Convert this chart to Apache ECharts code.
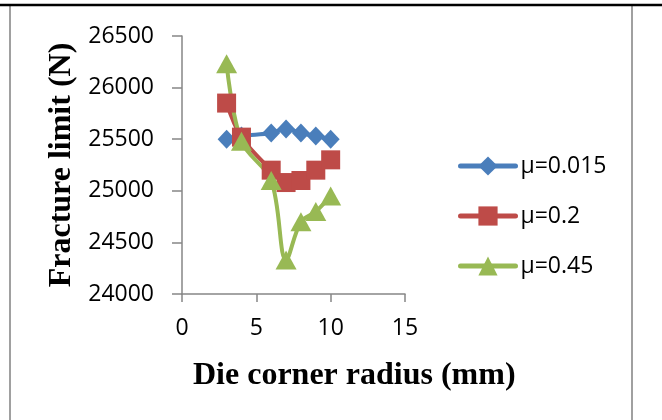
<!DOCTYPE html>
<html>
<head>
<meta charset="utf-8">
<script src="https://cdn.jsdelivr.net/npm/echarts@6/dist/echarts.min.js"></script>
<style>html,body{margin:0;padding:0;background:#fff;}#c{width:662px;height:420px;}</style>
</head>
<body>
<div id="c"></div>
<script>
var radius = [3, 4, 6, 7, 8, 9, 10];
var mu0015 = [25500, 25530, 25560, 25600, 25560, 25530, 25500];
var mu02 = [25850, 25520, 25200, 25080, 25100, 25200, 25300];
var mu045 = [26230, 25480, 25100, 24330, 24700, 24800, 24950];
var seriesNames = ['\u03bc=0.015', '\u03bc=0.2', '\u03bc=0.45'];
var xTitle = 'Die corner radius (mm)';
var yTitle = 'Fracture limit (N)';

function pairs(ys) { return radius.map(function (x, i) { return [x, ys[i]]; }); }

var chart = echarts.init(document.getElementById('c'), null, { renderer: 'canvas' });
var labelFont = { fontFamily: 'Open Sans', fontSize: 23, color: '#000', formatter: function (v) { return String(v); } };
chart.setOption({
  animation: false,
  backgroundColor: '#fff',
  grid: { left: 182, right: 257, top: 36, bottom: 126, containLabel: false },
  title: {
    text: xTitle, left: 188, top: 355,
    textStyle: { fontFamily: 'Liberation Serif', fontWeight: 'bold', fontSize: 32, color: '#000' }
  },
  legend: {
    orient: 'vertical', left: 458, top: 154, padding: 0,
    itemWidth: 55, itemHeight: 24, itemGap: 26,
    lineStyle: { width: 5, cap: 'round' },
    textStyle: { fontFamily: 'Open Sans', fontSize: 23, color: '#000', lineHeight: 24 },
    data: seriesNames
  },
  xAxis: {
    type: 'value', min: 0, max: 15, interval: 5,
    axisLine: { lineStyle: { color: '#868686', width: 1.5 } },
    axisTick: { length: 8, lineStyle: { color: '#868686', width: 1.5 } },
    splitLine: { show: false },
    axisLabel: Object.assign({ margin: 23 }, labelFont)
  },
  yAxis: {
    type: 'value', min: 24000, max: 26500, interval: 500,
    name: yTitle, nameLocation: 'middle', nameGap: 104, nameRotate: 90,
    nameTextStyle: { fontFamily: 'Liberation Serif', fontWeight: 'bold', fontSize: 32, color: '#000' },
    axisLine: { show: true, lineStyle: { color: '#868686', width: 1.5 } },
    axisTick: { show: true, length: 10, lineStyle: { color: '#868686', width: 1.5 } },
    splitLine: { show: false },
    axisLabel: Object.assign({ margin: 28 }, labelFont)
  },
  series: [
    {
      name: seriesNames[0], type: 'line', data: pairs(mu0015), smooth: 0.35,
      symbol: 'diamond', symbolSize: [18, 19],
      lineStyle: { color: '#4A7EBB', width: 4 }, itemStyle: { color: '#4A7EBB' }
    },
    {
      name: seriesNames[1], type: 'line', data: pairs(mu02), smooth: 0.35,
      symbol: 'rect', symbolSize: 19,
      lineStyle: { color: '#BE4B48', width: 4 }, itemStyle: { color: '#BE4B48' }
    },
    {
      name: seriesNames[2], type: 'line', data: pairs(mu045), smooth: 0.35,
      symbol: 'triangle', symbolSize: [21, 19],
      lineStyle: { color: '#98B954', width: 4 }, itemStyle: { color: '#98B954' }
    }
  ],
  graphic: [
    { type: 'line', shape: { x1: 10, y1: 5, x2: 10, y2: 420 }, style: { stroke: '#A0A0A0', lineWidth: 2 } },
    { type: 'line', shape: { x1: 632, y1: 5, x2: 632, y2: 420 }, style: { stroke: '#A0A0A0', lineWidth: 2 } },
    { type: 'line', shape: { x1: 0, y1: 5, x2: 662, y2: 5 }, style: { stroke: '#000', lineWidth: 2.5 } }
  ]
});
</script>
</body>
</html>
